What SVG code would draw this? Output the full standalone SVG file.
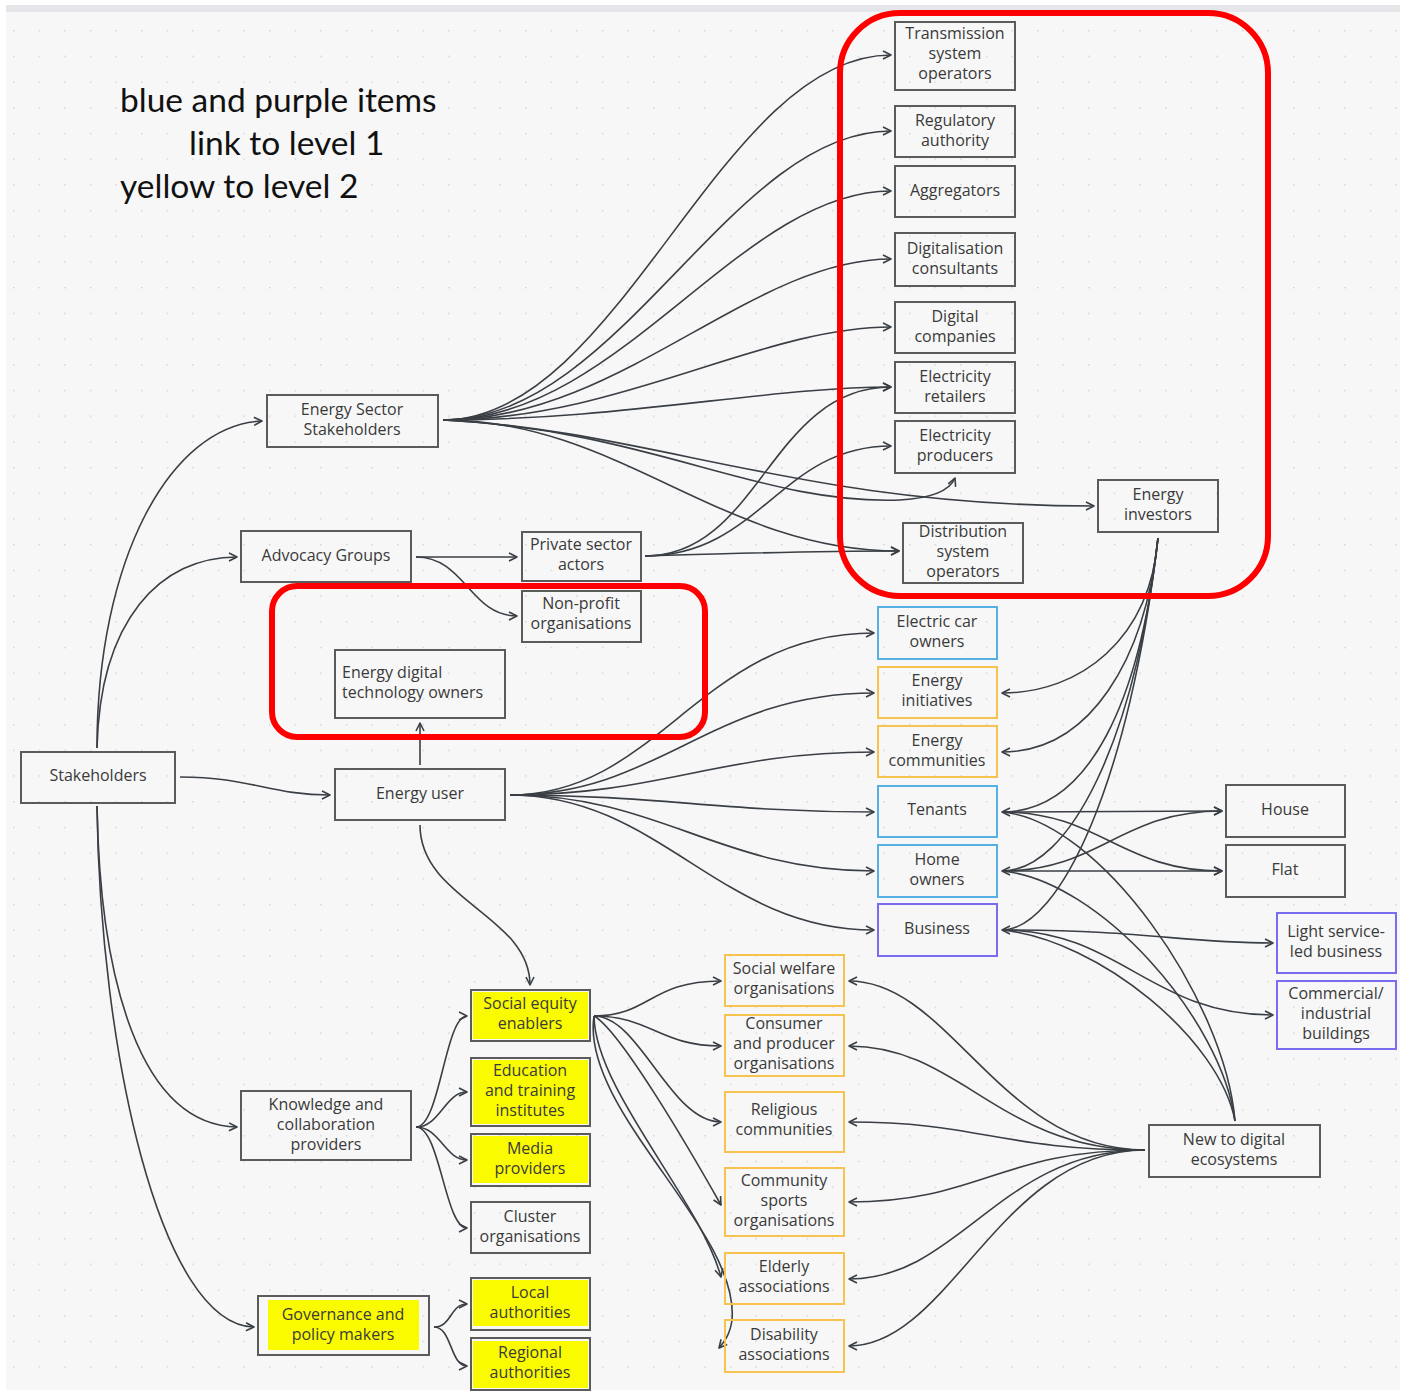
<svg xmlns="http://www.w3.org/2000/svg" width="1405" height="1394" viewBox="0 0 1405 1394">
  <defs>
    <pattern id="dots" x="13" y="30" width="25.6" height="25.7" patternUnits="userSpaceOnUse">
      <rect x="0" y="0" width="1.4" height="1.4" fill="#cfcfcf"/>
    </pattern>
    <marker id="arr" viewBox="0 0 10 10" refX="9" refY="5" markerWidth="10" markerHeight="10" markerUnits="userSpaceOnUse" orient="auto">
      <path d="M1,1 L9,5 L1,9" fill="none" stroke="#3a3f45" stroke-width="1.6" stroke-linejoin="round"/>
    </marker>
    <style>
      .box { fill: none; stroke: #5b5b5b; stroke-width: 2; }
      .blue { stroke: #56b0e4; }
      .orange { stroke: #f6c34f; }
      .purple { stroke: #7a6cf0; }
      .hl { fill: #fbfb00; stroke: none; }
      .t { font-family: "Open Sans", "Liberation Sans", sans-serif; font-size: 16px; fill: #3a3a3a; text-anchor: middle; }
      .tl { text-anchor: start; }
      .note { font-family: Lato, "Liberation Sans", sans-serif; font-size: 33.5px; fill: #111; }
      .edge { fill: none; stroke: #3a3f45; stroke-width: 1.6; marker-end: url(#arr); }
      .line { fill: none; stroke: #3a3f45; stroke-width: 1.6; }
      .frame { fill: none; stroke: #ff0000; stroke-width: 6; }
    </style>
  </defs>

  <!-- canvas -->
  <rect x="0" y="0" width="1405" height="1394" fill="#ffffff"/>
  <rect x="6" y="12" width="1394" height="1378" fill="#f7f7f7"/>
  <rect x="6" y="12" width="1394" height="1378" fill="url(#dots)"/>
  <rect x="6" y="5" width="1394" height="7" fill="#e4e6e9"/>

  <!-- legend note -->
  <g id="note">
    <text class="note" x="120" y="112">blue and purple items</text>
    <text class="note" x="189" y="155">link to level 1</text>
    <text class="note" x="120" y="198">yellow to level 2</text>
  </g>

  <!-- connectors -->
  <g id="connectors">
    <!-- Stakeholders -->
    <path class="edge" d="M97,748 C97,560 170,425 262,421"/>
    <path class="edge" d="M97,748 C100,620 160,557 237,557"/>
    <path class="edge" d="M180,777 C250,777 270,795 330,795"/>
    <path class="edge" d="M97,806 C100,980 140,1125 237,1127"/>
    <path class="edge" d="M97,806 C100,1050 160,1325 254,1327"/>

    <!-- Energy Sector Stakeholders fan -->
    <path class="edge" d="M443,420 C620,420 720,55 891,55"/>
    <path class="edge" d="M443,420 C620,420 730,131 891,131"/>
    <path class="edge" d="M443,420 C620,420 740,191 891,191"/>
    <path class="edge" d="M443,420 C620,420 750,259 891,259"/>
    <path class="edge" d="M443,420 C620,420 760,327 891,327"/>
    <path class="edge" d="M443,420 C620,420 770,387 891,387"/>
    <path class="edge" d="M443,420 C650,430 800,506 1094,506"/>
    <path class="edge" d="M443,420 C620,420 720,551 899,551"/>
    <path class="edge" d="M443,420 C650,430 760,505 900,500 C935,498 950,490 955,478"/>

    <!-- Advocacy Groups -->
    <path class="edge" d="M416,557 L517,557"/>
    <path class="edge" d="M416,557 C465,557 470,616 517,616"/>

    <!-- Private sector actors -->
    <path class="edge" d="M645,556 C760,556 770,387 891,387"/>
    <path class="edge" d="M645,556 C760,556 780,446 891,446"/>
    <path class="edge" d="M645,556 C760,553 800,551 899,551"/>

    <!-- Energy user -->
    <path class="edge" d="M510,795 C660,795 700,633 874,633"/>
    <path class="edge" d="M510,795 C660,795 710,693 874,693"/>
    <path class="edge" d="M510,795 C660,795 720,752 874,752"/>
    <path class="edge" d="M510,795 C660,795 720,812 874,812"/>
    <path class="edge" d="M510,795 C660,795 720,871 874,871"/>
    <path class="edge" d="M510,795 C660,795 720,930 874,930"/>
    <path class="edge" d="M420,765 L420,723"/>
    <path class="edge" d="M420,825 C420,900 530,915 530,985"/>

    <!-- Energy investors -->
    <path class="edge" d="M1158,538 C1150,640 1080,693 1002,693"/>
    <path class="edge" d="M1158,538 C1145,660 1090,752 1002,752"/>
    <path class="edge" d="M1158,538 C1140,700 1090,812 1002,812"/>
    <path class="edge" d="M1158,538 C1135,740 1070,871 1002,871"/>
    <path class="edge" d="M1158,538 C1130,780 1060,930 1002,930"/>

    <!-- dwellings and business types -->
    <path class="edge" d="M1002,812 L1222,811"/>
    <path class="edge" d="M1002,812 C1100,812 1120,871 1222,871"/>
    <path class="edge" d="M1002,871 C1100,871 1120,811 1222,811"/>
    <path class="edge" d="M1002,871 L1222,871"/>
    <path class="edge" d="M1002,930 C1150,930 1180,943 1273,943"/>
    <path class="edge" d="M1002,930 C1120,930 1150,1015 1273,1015"/>

    <!-- links into New to digital ecosystems -->
    <path class="line" d="M1002,812 C1100,820 1225,1000 1235,1121"/>
    <path class="line" d="M1002,871 C1100,880 1222,1020 1235,1121"/>
    <path class="line" d="M1002,930 C1100,940 1220,1040 1235,1121"/>

    <!-- New to digital ecosystems fan -->
    <path class="edge" d="M1145,1150 C1000,1150 950,981 849,981"/>
    <path class="edge" d="M1145,1150 C1000,1150 960,1046 849,1046"/>
    <path class="edge" d="M1145,1150 C1000,1150 980,1122 849,1122"/>
    <path class="edge" d="M1145,1150 C1000,1150 980,1202 849,1202"/>
    <path class="edge" d="M1145,1150 C1000,1150 960,1279 849,1279"/>
    <path class="edge" d="M1145,1150 C1000,1150 950,1346 849,1346"/>

    <!-- Social equity enablers fan -->
    <path class="edge" d="M594,1016 C650,1016 650,981 721,981"/>
    <path class="edge" d="M594,1016 C650,1016 660,1046 721,1046"/>
    <path class="edge" d="M594,1016 C640,1016 670,1122 721,1122"/>
    <path class="edge" d="M594,1016 C620,1030 690,1150 721,1205"/>
    <path class="edge" d="M594,1016 C595,1090 700,1200 721,1277"/>
    <path class="edge" d="M594,1016 C580,1110 740,1230 732,1320 C730,1335 724,1342 719,1348"/>

    <!-- Knowledge and collaboration providers -->
    <path class="edge" d="M416,1127 C440,1127 445,1016 467,1016"/>
    <path class="edge" d="M416,1127 C440,1127 445,1092 467,1092"/>
    <path class="edge" d="M416,1127 C440,1127 445,1160 467,1160"/>
    <path class="edge" d="M416,1127 C440,1127 445,1228 467,1228"/>

    <!-- Governance and policy makers -->
    <path class="edge" d="M434,1327 C452,1327 450,1304 467,1304"/>
    <path class="edge" d="M434,1327 C452,1327 450,1366 467,1366"/>
  </g>

  <!-- nodes -->
  <g id="tso"><rect class="box" x="895" y="22" width="120" height="68"/>
    <text class="t" x="955" y="39">Transmission</text><text class="t" x="955" y="59">system</text><text class="t" x="955" y="79">operators</text></g>
  <g id="regulatory"><rect class="box" x="895" y="106" width="120" height="51"/>
    <text class="t" x="955" y="126">Regulatory</text><text class="t" x="955" y="146">authority</text></g>
  <g id="aggregators"><rect class="box" x="895" y="166" width="120" height="51"/>
    <text class="t" x="955" y="196">Aggregators</text></g>
  <g id="digi-consultants"><rect class="box" x="895" y="233" width="120" height="53"/>
    <text class="t" x="955" y="254">Digitalisation</text><text class="t" x="955" y="274">consultants</text></g>
  <g id="digi-companies"><rect class="box" x="895" y="302" width="120" height="51"/>
    <text class="t" x="955" y="322">Digital</text><text class="t" x="955" y="342">companies</text></g>
  <g id="el-retailers"><rect class="box" x="895" y="362" width="120" height="51"/>
    <text class="t" x="955" y="382">Electricity</text><text class="t" x="955" y="402">retailers</text></g>
  <g id="el-producers"><rect class="box" x="895" y="421" width="120" height="52"/>
    <text class="t" x="955" y="441">Electricity</text><text class="t" x="955" y="461">producers</text></g>
  <g id="investors"><rect class="box" x="1098" y="480" width="120" height="52"/>
    <text class="t" x="1158" y="500">Energy</text><text class="t" x="1158" y="520">investors</text></g>
  <g id="dso"><rect class="box" x="903" y="523" width="120" height="60"/>
    <text class="t" x="963" y="537">Distribution</text><text class="t" x="963" y="557">system</text><text class="t" x="963" y="577">operators</text></g>

  <g id="ess"><rect class="box" x="267" y="395" width="171" height="52"/>
    <text class="t" x="352" y="415">Energy Sector</text><text class="t" x="352" y="435">Stakeholders</text></g>
  <g id="advocacy"><rect class="box" x="241" y="531" width="170" height="51"/>
    <text class="t" x="326" y="561">Advocacy Groups</text></g>
  <g id="private-sector"><rect class="box" x="522" y="532" width="119" height="49"/>
    <text class="t" x="581" y="550">Private sector</text><text class="t" x="581" y="570">actors</text></g>
  <g id="non-profit"><rect class="box" x="522" y="591" width="119" height="51"/>
    <text class="t" x="581" y="609">Non-profit</text><text class="t" x="581" y="629">organisations</text></g>
  <g id="edto"><rect class="box" x="335" y="650" width="170" height="68"/>
    <text class="t tl" x="342" y="678">Energy digital</text><text class="t tl" x="342" y="698">technology owners</text></g>
  <g id="stakeholders"><rect class="box" x="21" y="752" width="154" height="51"/>
    <text class="t" x="98" y="781">Stakeholders</text></g>
  <g id="energy-user"><rect class="box" x="335" y="769" width="170" height="51"/>
    <text class="t" x="420" y="799">Energy user</text></g>

  <g id="ev-owners"><rect class="box blue" x="878" y="607" width="119" height="52"/>
    <text class="t" x="937" y="627">Electric car</text><text class="t" x="937" y="647">owners</text></g>
  <g id="initiatives"><rect class="box orange" x="878" y="667" width="119" height="51"/>
    <text class="t" x="937" y="686">Energy</text><text class="t" x="937" y="706">initiatives</text></g>
  <g id="communities"><rect class="box orange" x="878" y="726" width="119" height="51"/>
    <text class="t" x="937" y="746">Energy</text><text class="t" x="937" y="766">communities</text></g>
  <g id="tenants"><rect class="box blue" x="878" y="786" width="119" height="51"/>
    <text class="t" x="937" y="815">Tenants</text></g>
  <g id="home-owners"><rect class="box blue" x="878" y="845" width="119" height="52"/>
    <text class="t" x="937" y="865">Home</text><text class="t" x="937" y="885">owners</text></g>
  <g id="business"><rect class="box purple" x="878" y="904" width="119" height="52"/>
    <text class="t" x="937" y="934">Business</text></g>

  <g id="house"><rect class="box" x="1226" y="785" width="119" height="52"/>
    <text class="t" x="1285" y="815">House</text></g>
  <g id="flat"><rect class="box" x="1226" y="845" width="119" height="52"/>
    <text class="t" x="1285" y="875">Flat</text></g>
  <g id="light-service"><rect class="box purple" x="1277" y="913" width="119" height="60"/>
    <text class="t" x="1336" y="937">Light service-</text><text class="t" x="1336" y="957">led business</text></g>
  <g id="commercial"><rect class="box purple" x="1277" y="981" width="119" height="68"/>
    <text class="t" x="1336" y="999">Commercial/</text><text class="t" x="1336" y="1019">industrial</text><text class="t" x="1336" y="1039">buildings</text></g>
  <g id="new-digital"><rect class="box" x="1149" y="1125" width="171" height="52"/>
    <text class="t" x="1234" y="1145">New to digital</text><text class="t" x="1234" y="1165">ecosystems</text></g>

  <g id="social-equity"><rect class="hl" x="473" y="992" width="115" height="47"/><rect class="box" x="471" y="990" width="119" height="51"/>
    <text class="t" x="530" y="1009">Social equity</text><text class="t" x="530" y="1029">enablers</text></g>
  <g id="education"><rect class="hl" x="473" y="1060" width="115" height="64"/><rect class="box" x="471" y="1058" width="119" height="68"/>
    <text class="t" x="530" y="1076">Education</text><text class="t" x="530" y="1096">and training</text><text class="t" x="530" y="1116">institutes</text></g>
  <g id="media"><rect class="hl" x="473" y="1136" width="115" height="47"/><rect class="box" x="471" y="1134" width="119" height="52"/>
    <text class="t" x="530" y="1154">Media</text><text class="t" x="530" y="1174">providers</text></g>
  <g id="cluster"><rect class="box" x="471" y="1202" width="119" height="51"/>
    <text class="t" x="530" y="1222">Cluster</text><text class="t" x="530" y="1242">organisations</text></g>
  <g id="local"><rect class="hl" x="473" y="1280" width="115" height="46"/><rect class="box" x="471" y="1278" width="119" height="52"/>
    <text class="t" x="530" y="1298">Local</text><text class="t" x="530" y="1318">authorities</text></g>
  <g id="regional"><rect class="hl" x="473" y="1341" width="115" height="47"/><rect class="box" x="471" y="1338" width="119" height="52"/>
    <text class="t" x="530" y="1358">Regional</text><text class="t" x="530" y="1378">authorities</text></g>
  <g id="knowledge"><rect class="box" x="241" y="1091" width="170" height="69"/>
    <text class="t" x="326" y="1110">Knowledge and</text><text class="t" x="326" y="1130">collaboration</text><text class="t" x="326" y="1150">providers</text></g>
  <g id="governance"><rect class="hl" x="268" y="1300" width="151" height="50"/><rect class="box" x="258" y="1296" width="171" height="59"/>
    <text class="t" x="343" y="1320">Governance and</text><text class="t" x="343" y="1340">policy makers</text></g>

  <g id="social-welfare"><rect class="box orange" x="725" y="955" width="119" height="51"/>
    <text class="t" x="784" y="974">Social welfare</text><text class="t" x="784" y="994">organisations</text></g>
  <g id="consumer-producer"><rect class="box orange" x="725" y="1015" width="119" height="61"/>
    <text class="t" x="784" y="1029">Consumer</text><text class="t" x="784" y="1049">and producer</text><text class="t" x="784" y="1069">organisations</text></g>
  <g id="religious"><rect class="box orange" x="725" y="1092" width="119" height="60"/>
    <text class="t" x="784" y="1115">Religious</text><text class="t" x="784" y="1135">communities</text></g>
  <g id="sports"><rect class="box orange" x="725" y="1168" width="119" height="68"/>
    <text class="t" x="784" y="1186">Community</text><text class="t" x="784" y="1206">sports</text><text class="t" x="784" y="1226">organisations</text></g>
  <g id="elderly"><rect class="box orange" x="725" y="1253" width="119" height="51"/>
    <text class="t" x="784" y="1272">Elderly</text><text class="t" x="784" y="1292">associations</text></g>
  <g id="disability"><rect class="box orange" x="725" y="1320" width="119" height="52"/>
    <text class="t" x="784" y="1340">Disability</text><text class="t" x="784" y="1360">associations</text></g>

  <!-- highlight frames -->
  <g id="frames">
    <rect class="frame" x="840" y="13" width="428" height="583" rx="60"/>
    <rect class="frame" x="272" y="586" width="433" height="151" rx="25"/>
  </g>
</svg>
